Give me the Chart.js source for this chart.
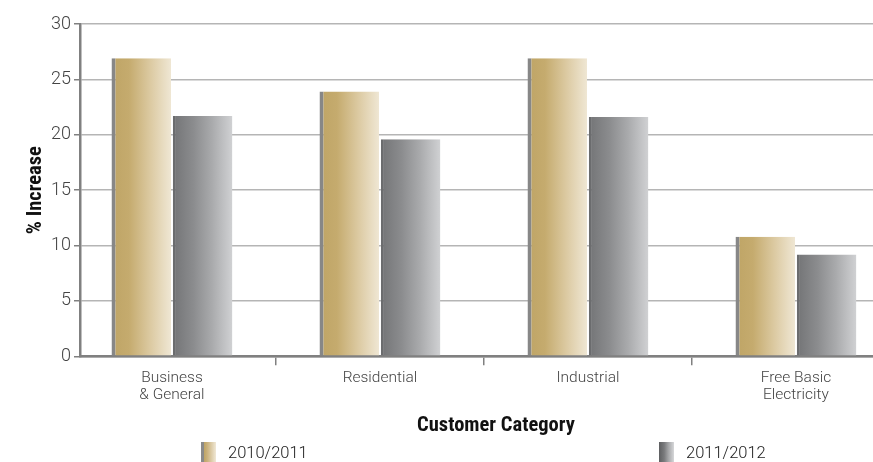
<!DOCTYPE html>
<html>
<head>
<meta charset="utf-8">
<script src="https://cdn.jsdelivr.net/npm/chart.js@4/dist/chart.umd.min.js"></script>
<style>
  html, body { margin: 0; padding: 0; background: #fff; overflow: hidden; }
  #wrap { position: relative; width: 873px; height: 462px; overflow: hidden; }
  #legend { position: absolute; left: 0; top: 0; width: 873px; height: 462px; pointer-events: none; }
  .item { position: absolute; top: 442px; font: 300 16.5px Roboto, "Liberation Sans", sans-serif; color: #222; }
  .item .sw { position: absolute; left: 0; top: 0; width: 15px; height: 20px; }
  .item .tx { position: absolute; left: 27px; top: 1px; white-space: nowrap; }
</style>
</head>
<body>
<div id="wrap">
  <canvas id="chart" width="912" height="462"></canvas>
  <div id="legend"></div>
</div>
<script>
var categories = [['Business', '& General'], 'Residential', 'Industrial', ['Free Basic', 'Electricity']];
var series2010 = [26.9, 23.9, 26.9, 10.8];
var series2011 = [21.7, 19.6, 21.6, 9.2];
var seriesNames = ['2010/2011', '2011/2012'];
var yTicks = { min: 0, max: 30, step: 5 };

var catPct = 0.59;
var goldStops = [[0, '#bea465'], [0.3, '#c5ab6e'], [0.65, '#dccaa2'], [1, '#f0e8d6']];
var greyStops = [[0, '#727375'], [0.35, '#8b8c8e'], [0.65, '#a9aaac'], [1, '#d2d3d5']];

// category axis whose first band starts a little before the y axis line
class ShiftedCategoryScale extends Chart.CategoryScale {
    buildTicks() {
        var ticks = super.buildTicks();
        this._startValue += 0.058;
        return ticks;
    }
}
ShiftedCategoryScale.id = 'shiftedCategory';
ShiftedCategoryScale.defaults = Chart.CategoryScale.defaults;
Chart.register(ShiftedCategoryScale);

function barGradient(stops) {
    return function (ctx) {
        var chart = ctx.chart, xs = chart.scales.x;
        if (!chart.chartArea || !xs || ctx.dataIndex === undefined) return stops[0][1];
        var c = xs.getPixelForValue(ctx.dataIndex)
            , half = (xs.getPixelForValue(1) - xs.getPixelForValue(0)) * catPct / 2
            , x0 = ctx.datasetIndex === 0 ? c - half : c
            , g = chart.ctx.createLinearGradient(x0, 0, x0 + half, 0);
        stops.forEach(function (s) { g.addColorStop(s[0], s[1]); });
        return g;
    };
}

var tickFont = { family: 'Roboto, "Liberation Sans", sans-serif', weight: '300' };
var titleFont = { family: '"Liberation Sans Narrow", "Roboto Condensed", "Liberation Sans", sans-serif', size: 20.5, weight: 'bold' };

new Chart(document.getElementById('chart'), {
    type: 'bar',
    data: {
        labels: categories,
        datasets: [{
            label: seriesNames[0],
            data: series2010,
            backgroundColor: barGradient(goldStops),
            borderColor: '#878787',
            borderWidth: { left: 4, top: 0, right: 0, bottom: 0 },
            borderSkipped: false,
            categoryPercentage: catPct,
            barPercentage: 0.97
        }, {
            label: seriesNames[1],
            data: series2011,
            backgroundColor: barGradient(greyStops),
            borderColor: '#6b6c6e',
            borderWidth: { left: 3, top: 0, right: 0, bottom: 0 },
            borderSkipped: false,
            categoryPercentage: catPct,
            barPercentage: 0.97
        }]
    },
    options: {
        responsive: false,
        animation: false,
        layout: { padding: { top: 24, right: 0, bottom: 24, left: 0 } },
        plugins: { legend: { display: false }, tooltip: { enabled: false } },
        scales: {
            x: {
                type: 'shiftedCategory',
                grid: { drawOnChartArea: false, offset: true, tickLength: 9, tickColor: '#808080', lineWidth: 1.5 },
                border: { color: '#808080', width: 2.5 },
                ticks: { color: '#444', padding: 4, maxRotation: 0, font: Object.assign({ size: 15.5, lineHeight: 1.1 }, tickFont) },
                title: {
                    display: true, text: 'Customer Category', color: '#111',
                    font: titleFont,
                    padding: { top: 6, bottom: 0 }
                }
            },
            y: {
                min: yTicks.min, max: yTicks.max,
                afterFit: function (scale) { scale.width = 80; },
                grid: { color: '#b5b5b5', lineWidth: 1.5, tickLength: 6, tickColor: '#808080' },
                border: { color: '#808080', width: 2.5 },
                ticks: { stepSize: yTicks.step, color: '#444', padding: 3, font: Object.assign({ size: 18 }, tickFont) },
                title: {
                    display: true, text: '% Increase', color: '#111',
                    font: titleFont,
                    padding: { top: 24, bottom: 0 }
                }
            }
        }
    }
});

// legend below the chart
var swatches = [
    'linear-gradient(to right, #8a8a8a 0, #8a8a8a 3px, #bea465 3px, #c9b07a 40%, #f0e8d6 100%)',
    'linear-gradient(to right, #5e5f61 0, #7a7b7d 35%, #a8a9ab 65%, #d6d7d9 100%)'
];
var legendLeft = [201, 659];
seriesNames.forEach(function (name, i) {
    var it = document.createElement('div');
    it.className = 'item';
    it.style.left = legendLeft[i] + 'px';
    it.innerHTML = "<div class='sw' style='background:" + swatches[i] + "'></div><span class='tx'>" + name + "</span>";
    document.getElementById('legend').appendChild(it);
});
</script>
</body>
</html>
